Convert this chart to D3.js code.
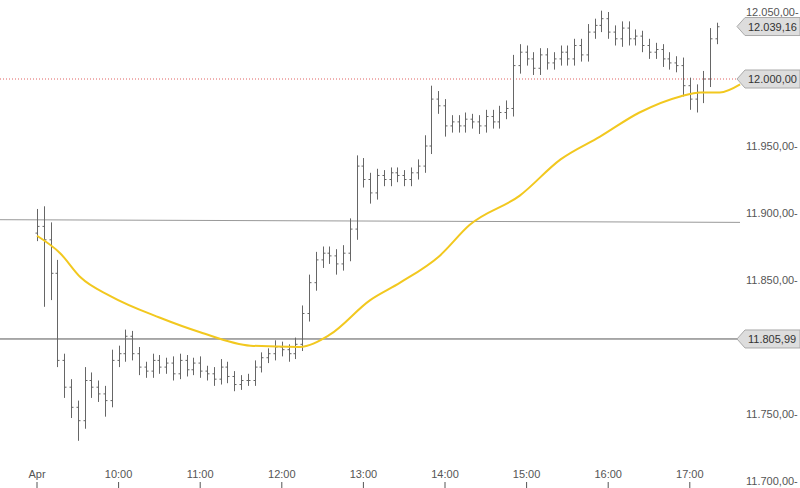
<!DOCTYPE html><html><head><meta charset="utf-8">
<script src="https://cdn.jsdelivr.net/npm/d3@7"></script>
<style>body{margin:0;background:#fff}svg{font-family:Arial,"Liberation Sans",sans-serif}</style></head><body>
<svg id="c" width="800" height="488"></svg>
<script>
const closes=[11890,11880,11855,11790,11770,11755,11745,11775,11770,11765,11760,11790,
11795,11808,11795,11785,11782,11790,11785,11788,11780,11790,11783,11788,
11782,11780,11776,11785,11778,11772,11775,11775,11785,11792,11795,11800,
11798,11795,11802,11825,11848,11865,11870,11868,11862,11870,11888,11935,
11925,11915,11928,11925,11930,11928,11925,11930,11935,11950,11985,11980,
11965,11968,11965,11970,11968,11965,11972,11968,11975,11978,12010,12020,
12015,12008,12018,12012,12015,12020,12015,12025,12018,12035,12040,12045,
12035,12030,12038,12030,12032,12025,12020,12022,12015,12012,12010,11995,
11985,11990,12000,12030,12039];
const wickUp=[13,15,13,10,5,6,5,10,6,5,6,8,6,5,4,5,4,5,4,4,5,5,4,4,5,4,5,6,4,4,4,5,5,4,4,5,4,4,5,6,6,6,5,5,5,6,8,8,6,5,5,4,4,4,4,4,5,8,10,6,5,5,5,5,4,5,5,5,5,6,8,6,5,5,5,5,5,5,5,5,5,6,5,6,5,5,5,5,5,4,5,5,4,5,5,6,6,6,6,8,3];
const wickDn=[6,50,20,5,8,8,15,6,8,6,12,5,5,6,5,6,5,5,5,5,5,4,5,4,5,5,5,4,5,5,4,4,4,4,4,5,5,6,4,5,6,6,6,6,8,5,6,8,6,8,5,5,5,5,5,5,5,5,6,6,8,5,5,5,5,6,5,5,5,5,6,6,5,5,5,5,5,5,5,5,5,5,5,5,5,5,6,5,5,5,5,5,6,5,5,8,8,10,8,6,4];
const maTimes=[0,17,32,54,90,120,157,193,215,245,267,296,318,355,385,414,443,473,488,502,517];
const maVals=[11883,11870,11852,11838,11822,11811,11801,11800,11809,11835,11848,11868,11891,11913,11940,11957,11975,11987,11990,11990,11996];
const yTicks=[11700,11750,11800,11850,11900,11950,12000,12050];
const xTickLabels=["Apr","10:00","11:00","12:00","13:00","14:00","15:00","16:00","17:00"];
const resistance=[11895,11893];
const support=11805.99, target=12000, last=12039.16;

const svg=d3.select("#c");
const x=d3.scaleLinear().domain([0,60]).range([37,118.6]);
const y=d3.scaleLinear().domain([12000,11950]).range([79,146]);
const fmt=v=>d3.formatLocale({decimal:",",thousands:".",grouping:[3]}).format(",.2f")(v);

svg.append("line").attr("x1",0).attr("x2",740).attr("y1",y(target)).attr("y2",y(target)).attr("stroke","#e06060").attr("stroke-dasharray","1,2");
svg.append("line").attr("x1",0).attr("x2",740).attr("y1",y(resistance[0])).attr("y2",y(resistance[1])).attr("stroke","#999");
svg.append("line").attr("x1",0).attr("x2",740).attr("y1",y(support)).attr("y2",y(support)).attr("stroke","#555");

const g=svg.append("g").attr("stroke","#666").attr("stroke-width",1);
closes.forEach((c,i)=>{
  const o=i?closes[i-1]:c-5, t=i*5, xx=Math.round(x(t))+0.5;
  const hi=Math.max(o,c)+wickUp[i], lo=Math.min(o,c)-wickDn[i];
  g.append("line").attr("x1",xx).attr("x2",xx).attr("y1",y(hi)).attr("y2",y(lo));
  g.append("line").attr("x1",xx-2).attr("x2",xx).attr("y1",y(o)).attr("y2",y(o));
  g.append("line").attr("x1",xx).attr("x2",xx+2).attr("y1",y(c)).attr("y2",y(c));
});
svg.append("path").datum(maTimes.map((t,i)=>[t,maVals[i]]))
 .attr("d",d3.line().x(d=>x(d[0])).y(d=>y(d[1])).curve(d3.curveMonotoneX))
 .attr("fill","none").attr("stroke","#f2c81f").attr("stroke-width",2);

const tags=[last,target,support];
yTicks.forEach(v=>{
  if(tags.some(t=>Math.abs(y(t)-y(v))<12)) return;
  svg.append("text").attr("x",746).attr("y",y(v)+4).attr("font-size",11).attr("fill","#555").text(fmt(v)+"-");
});
xTickLabels.forEach((s,i)=>{
  const xx=x(i*60);
  svg.append("line").attr("x1",xx).attr("x2",xx).attr("y1",482).attr("y2",488).attr("stroke","#555");
  svg.append("text").attr("x",xx).attr("y",478).attr("text-anchor","middle").attr("font-size",11).attr("fill","#555").text(s);
});
function tag(v,bg){
  const yy=y(v);
  svg.append("path").attr("d",`M737,${yy} L745,${yy-9} L800,${yy-9} L800,${yy+9} L745,${yy+9} Z`).attr("fill",bg).attr("stroke","#aaa");
  svg.append("text").attr("x",748).attr("y",yy+4).attr("font-size",11).attr("fill","#333").text(fmt(v));
}
tags.forEach(t=>tag(t,"#ddd"));
</script></body></html>
